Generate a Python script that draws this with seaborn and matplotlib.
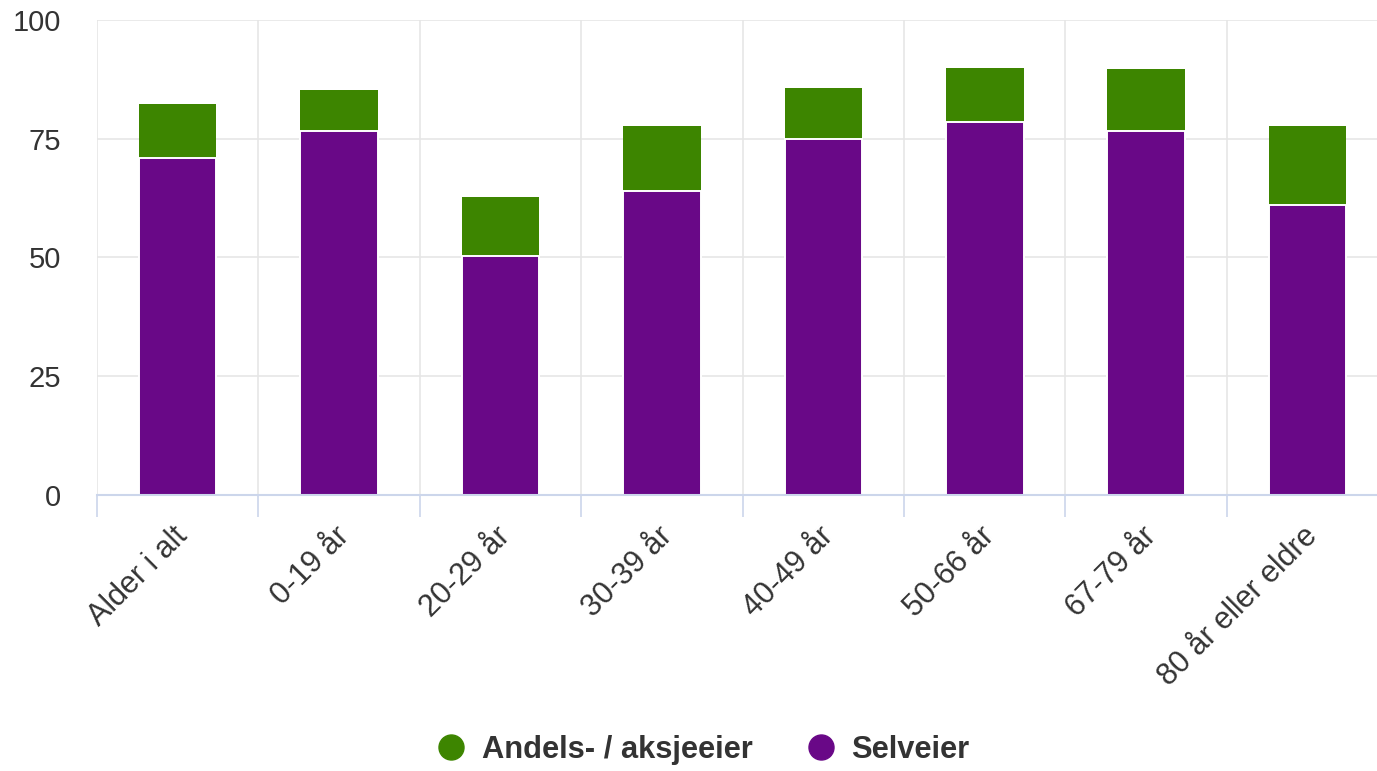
import matplotlib
matplotlib.use("Agg")
import matplotlib.pyplot as plt
import matplotlib.transforms as mtransforms
import seaborn as sns
from matplotlib.lines import Line2D
import numpy as np

# chart values
categories = ["Alder i alt", "0-19 år", "20-29 år", "30-39 år",
              "40-49 år", "50-66 år", "67-79 år", "80 år eller eldre"]
selveier = [70.9, 76.6, 50.3, 64.0, 74.9, 78.5, 76.6, 61.1]
andel = [11.4, 8.7, 12.4, 13.7, 10.8, 11.4, 13.1, 16.6]
yticks = [0, 25, 50, 75, 100]

green = "#3d8500"
purple = "#690887"

sns.set_style("white")
plt.rcParams["font.family"] = ["Liberation Sans", "DejaVu Sans"]

totals = [s + a for s, a in zip(selveier, andel)]

fig = plt.figure(figsize=(13.77, 7.71), dpi=100)
ax = fig.add_axes([97 / 1377, 276 / 771, 1 - 97 / 1377, 475 / 771])

# green stacked on top: draw full height first, then purple over it
sns.barplot(x=categories, y=totals, color=green, width=0.48,
            saturation=1, linewidth=0, ax=ax, zorder=2)
sns.barplot(x=categories, y=selveier, color=purple, width=0.48,
            saturation=1, edgecolor="white", linewidth=1.4, ax=ax, zorder=3)

ax.set_ylim(0, 100)
ax.set_xlim(-0.5, 7.43)
ax.set_yticks(yticks)
ax.set_yticklabels([str(v) for v in yticks])

ax.set_xticks(np.arange(-0.5, 7.4, 1.0), minor=True)
ax.grid(axis="y", color="#e6e6e6", linewidth=1.2, zorder=0)
ax.grid(axis="x", which="minor", color="#e6e6e6", linewidth=1.2, zorder=0)
ax.set_axisbelow(True)

for side in ["top", "right", "left"]:
    ax.spines[side].set_visible(False)
ax.spines["bottom"].set_color("#ccd6eb")
ax.spines["bottom"].set_linewidth(1.5)
ax.spines["bottom"].set_zorder(4)

ax.tick_params(axis="x", which="major", length=0, pad=19, labelsize=22,
               labelcolor="#333333")
ax.tick_params(axis="x", which="minor", bottom=True, length=16, width=1.2,
               color="#ccd6eb")
ax.tick_params(axis="y", length=0, pad=26, labelsize=21, labelcolor="#333333")

# nudge the rotated labels a little to the left
shift = mtransforms.ScaledTranslation(-5 / 100, 0, fig.dpi_scale_trans)
for lab in ax.get_xticklabels():
    lab.set_rotation(45)
    lab.set_ha("right")
    lab.set_va("top")
    lab.set_rotation_mode("anchor")
    lab.set_transform(lab.get_transform() + shift)

handles = [
    Line2D([], [], marker="o", linestyle="", markersize=18,
           markerfacecolor=green, markeredgecolor=green),
    Line2D([], [], marker="o", linestyle="", markersize=18,
           markerfacecolor=purple, markeredgecolor=purple),
]
fig.legend(handles, ["Andels- / aksjeeier", "Selveier"], loc="center",
           bbox_to_anchor=(695 / 1377, 1 - 750 / 771), ncol=2, frameon=False,
           prop={"size": 22.2, "weight": "bold"}, labelcolor="#333333",
           handletextpad=0.0, columnspacing=1.2)

fig.savefig("out.png", dpi=100)
